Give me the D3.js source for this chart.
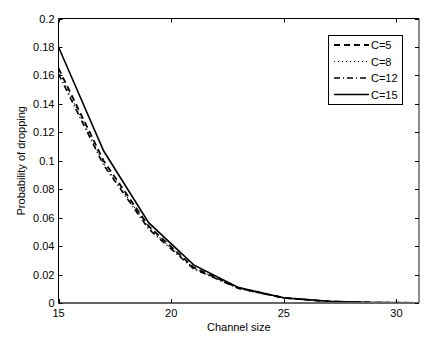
<!DOCTYPE html>
<html><head><meta charset="utf-8">
<script src="https://cdn.jsdelivr.net/npm/d3@7"></script>
<style>body{margin:0;background:#fff}svg{display:block}text{font-family:"Liberation Sans",Arial,sans-serif;font-size:11px;fill:#000}</style>
</head><body>
<script>
const channelSizes = [15, 17, 19, 21, 23, 25, 27, 29, 31];
const seriesNames = ["C=5", "C=8", "C=12", "C=15"];
const c5  = [0.165, 0.100, 0.054, 0.025, 0.0105, 0.0036, 0.0011, 0.0003, 0.0001];
const c8  = [0.163, 0.098, 0.053, 0.0245, 0.0103, 0.0035, 0.0011, 0.0003, 0.0001];
const c12 = [0.161, 0.097, 0.052, 0.024, 0.0102, 0.0035, 0.0011, 0.0003, 0.0001];
const c15 = [0.180, 0.107, 0.0565, 0.0268, 0.0108, 0.0037, 0.0012, 0.0004, 0.0001];
const xTicks = [15, 20, 25, 30];
const yTicks = [0, 0.02, 0.04, 0.06, 0.08, 0.1, 0.12, 0.14, 0.16, 0.18, 0.2];
const yTickLabels = ["0","0.02","0.04","0.06","0.08","0.1","0.12","0.14","0.16","0.18","0.2"];

const W = 437, H = 344;
const L = 58.5, R = 419, T = 18.5, B = 303;
const svg = d3.select("body").append("svg").attr("width", W).attr("height", H);
const x = d3.scaleLinear().domain([15, 31]).range([L, R]);
const y = d3.scaleLinear().domain([0, 0.2]).range([B, T]);

// series
const allSeries = [c5, c8, c12, c15];
const dashes = ["6,4", "1,3", "6,3,1,3", null];
const widths = [1.8, 1.2, 1.6, 1.6];
const line = d3.line().x((d, i) => x(channelSizes[i])).y(d => y(d));
const plot = svg.append("g");
plot.append("defs").append("clipPath").attr("id", "clip").append("rect")
  .attr("x", L).attr("y", T).attr("width", R - L).attr("height", B - T);
allSeries.forEach((s, k) => {
  plot.append("path").datum(s).attr("d", line).attr("fill", "none")
    .attr("stroke", "#000").attr("stroke-width", widths[k])
    .attr("stroke-dasharray", dashes[k]).attr("clip-path", "url(#clip)");
});

// axes box
const ax = svg.append("g");
ax.append("line").attr("x1", L).attr("x2", L).attr("y1", T).attr("y2", B).attr("stroke", "#000");
ax.append("line").attr("x1", L).attr("x2", R).attr("y1", T).attr("y2", T).attr("stroke", "#000");
ax.append("line").attr("x1", R).attr("x2", R).attr("y1", T).attr("y2", B).attr("stroke", "#666").attr("stroke-width", 1.5);
ax.append("line").attr("x1", L).attr("x2", R).attr("y1", B).attr("y2", B).attr("stroke", "#666").attr("stroke-width", 2);

// ticks
xTicks.forEach(t => {
  const px = Math.round(x(t)) + 0.5;
  ax.append("line").attr("x1", px).attr("x2", px).attr("y1", B).attr("y2", B - 4).attr("stroke", "#000");
  ax.append("line").attr("x1", px).attr("x2", px).attr("y1", T).attr("y2", T + 4).attr("stroke", "#000");
  ax.append("text").attr("x", x(t)).attr("y", B + 14).attr("text-anchor", "middle").text(t);
});
yTicks.forEach((t, i) => {
  const py = Math.round(y(t)) + 0.5;
  ax.append("line").attr("x1", L).attr("x2", L + 4).attr("y1", py).attr("y2", py).attr("stroke", "#000");
  ax.append("line").attr("x1", R).attr("x2", R - 4).attr("y1", py).attr("y2", py).attr("stroke", "#000");
  ax.append("text").attr("x", L - 4).attr("y", y(t) + 4).attr("text-anchor", "end").text(yTickLabels[i]);
});

// labels
svg.append("text").attr("x", (L + R) / 2).attr("y", 331).attr("text-anchor", "middle").text("Channel size");
svg.append("text").attr("transform", `translate(25,${(T + B) / 2}) rotate(-90)`).attr("text-anchor", "middle").text("Probability of dropping");

// legend
const lg = svg.append("g");
lg.append("rect").attr("x", 328.5).attr("y", 35.5).attr("width", 74).attr("height", 69)
  .attr("fill", "#fff").attr("stroke", "#000");
seriesNames.forEach((n, k) => {
  const ly = 45 + k * 16.5;
  lg.append("line").attr("x1", 334).attr("x2", 369).attr("y1", ly).attr("y2", ly)
    .attr("stroke", "#000").attr("stroke-width", widths[k]).attr("stroke-dasharray", dashes[k]);
  lg.append("text").attr("x", 371).attr("y", ly + 4).text(n);
});
</script>
</body></html>
